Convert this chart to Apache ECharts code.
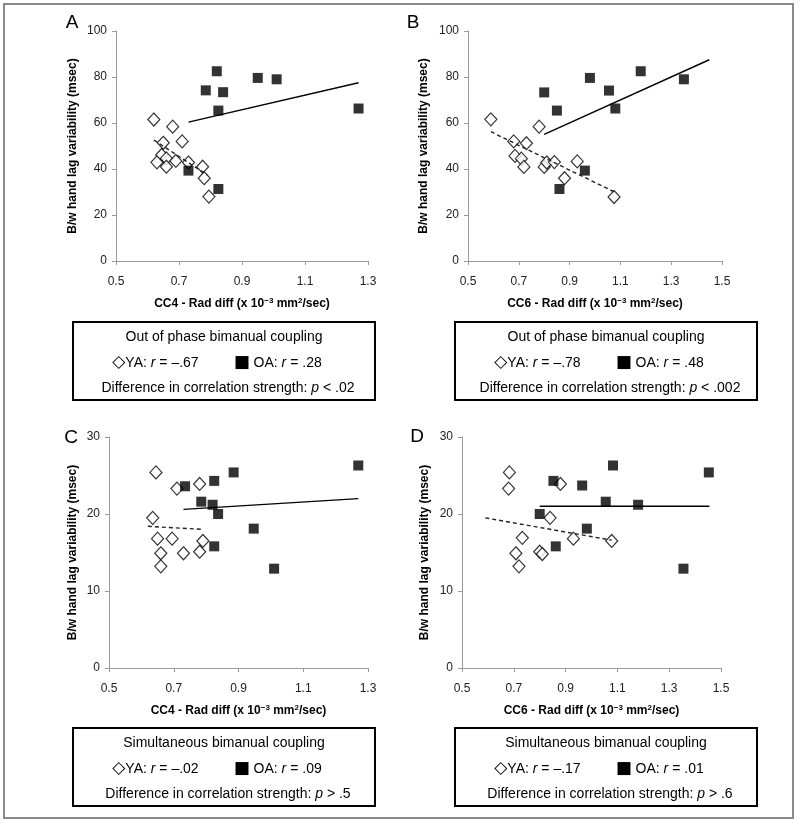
<!DOCTYPE html>
<html>
<head>
<meta charset="utf-8">
<title>Rad diff vs hand lag variability</title>
<style>
  html, body { margin: 0; padding: 0; background: #fff; overflow: hidden; }
</style>
</head>
<body>
<div id="chart-container" style="width: 800px; height: 823px;"></div>
<script src="https://cdn.jsdelivr.net/npm/echarts@6/dist/echarts.min.js"></script>
<script>
// tick labels
var xTicksCC4 = ['0.5', '0.7', '0.9', '1.1', '1.3'];
var xTicksCC6 = ['0.5', '0.7', '0.9', '1.1', '1.3', '1.5'];

// A: out of phase, CC4
var youngA = [[0.62, 61.5], [0.68, 58.4], [0.65, 51.4], [0.71, 52.0], [0.645, 46.1], [0.66, 44.6],
  [0.63, 42.9], [0.66, 41.0], [0.69, 43.5], [0.73, 42.8], [0.775, 41.0], [0.78, 36.0], [0.795, 28.0]];
var oldA = [[0.73, 39.3], [0.785, 74.2], [0.82, 82.5], [0.825, 65.4], [0.825, 31.3],
  [0.84, 73.4], [0.95, 79.6], [1.01, 79.0], [1.27, 66.3]];
var trendYoungA = [[0.62, 52.6], [0.79, 37.4]];
var trendOldA = [[0.73, 60.4], [1.27, 77.5]];

// B: out of phase, CC6
var youngB = [[0.59, 61.6], [0.78, 58.4], [0.68, 52.0], [0.73, 51.2], [0.685, 45.7], [0.71, 44.5],
  [0.72, 40.9], [0.80, 40.9], [0.81, 42.8], [0.84, 43.0], [0.93, 43.3], [0.88, 36.0], [1.075, 27.8]];
var oldB = [[0.80, 73.3], [0.85, 65.4], [0.98, 79.6], [1.055, 74.1], [1.18, 82.5],
  [1.35, 79.0], [1.08, 66.3], [0.96, 39.3], [0.86, 31.3]];
var trendYoungB = [[0.59, 56.2], [1.075, 30.1]];
var trendOldB = [[0.80, 55.1], [1.45, 87.5]];

// C: simultaneous, CC4
var youngC = [[0.645, 25.4], [0.71, 23.3], [0.78, 23.9], [0.635, 19.5], [0.65, 16.8], [0.695, 16.8],
  [0.79, 16.5], [0.66, 14.9], [0.73, 14.9], [0.78, 15.1], [0.66, 13.2]];
var oldC = [[0.735, 23.6], [0.825, 24.3], [0.885, 25.4], [0.785, 21.6], [0.82, 21.2], [0.837, 20.0],
  [0.947, 18.1], [0.825, 15.8], [1.01, 12.9], [1.27, 26.3]];
var trendYoungC = [[0.62, 18.4], [0.79, 18.0]];
var trendOldC = [[0.73, 20.6], [1.27, 22.0]];

// D: simultaneous, CC6
var youngD = [[0.683, 25.4], [0.68, 23.3], [0.88, 23.9], [0.84, 19.5], [0.733, 16.9], [0.93, 16.8],
  [1.078, 16.5], [0.708, 14.9], [0.80, 15.1], [0.81, 14.8], [0.72, 13.2]];
var oldD = [[0.853, 24.3], [1.083, 26.3], [0.964, 23.7], [1.453, 25.4], [1.055, 21.6], [1.18, 21.2],
  [0.80, 20.0], [0.982, 18.1], [0.862, 15.8], [1.355, 12.9]];
var trendYoungD = [[0.59, 19.5], [1.078, 16.6]];
var trendOldD = [[0.80, 21.0], [1.455, 21.0]];

var FONT = 'Liberation Sans, Arial, Helvetica, sans-serif';
var AXIS_GREY = '#9a9a9a';

var chart = echarts.init(document.getElementById('chart-container'));

var panels = [
  { grid: { left: 116, top: 31, width: 252, height: 230 }, ticks: xTicksCC4, xMax: 1.3, yMax: 100, yStep: 20,
    region: 'CC4', yGap: 37, young: youngA, old: oldA, tY: trendYoungA, tO: trendOldA },
  { grid: { left: 468, top: 31, width: 254, height: 230 }, ticks: xTicksCC6, xMax: 1.5, yMax: 100, yStep: 20,
    region: 'CC6', yGap: 38, young: youngB, old: oldB, tY: trendYoungB, tO: trendOldB },
  { grid: { left: 109, top: 437, width: 259, height: 231 }, ticks: xTicksCC4, xMax: 1.3, yMax: 30, yStep: 10,
    region: 'CC4', yGap: 30, young: youngC, old: oldC, tY: trendYoungC, tO: trendOldC },
  { grid: { left: 462, top: 437, width: 259, height: 231 }, ticks: xTicksCC6, xMax: 1.5, yMax: 30, yStep: 10,
    region: 'CC6', yGap: 31, young: youngD, old: oldD, tY: trendYoungD, tO: trendOldD }
];

var grids = [], xAxes = [], yAxes = [], series = [];

panels.forEach(function (p, i) {
  grids.push(p.grid);

  // visible axis only carries the tick labels
  xAxes.push({
    type: 'category', gridIndex: i, data: p.ticks, boundaryGap: false, position: 'bottom',
    axisLine: { lineStyle: { color: AXIS_GREY, width: 1 } },
    axisTick: { show: true, alignWithLabel: true, length: 4, lineStyle: { color: AXIS_GREY } },
    axisLabel: { fontSize: 12, color: '#222', fontFamily: FONT, margin: 15, interval: 0 },
    name: p.region + ' - Rad diff (x 10{sup|\u22123} mm{sup|2}/sec)',
    nameLocation: 'middle', nameGap: 36,
    nameTextStyle: {
      fontSize: 12, fontWeight: 'bold', color: '#000', fontFamily: FONT,
      rich: { sup: { fontSize: 8, fontWeight: 'bold', fontFamily: FONT, color: '#000', verticalAlign: 'top', padding: [0, 0, 6, 0] } }
    }
  });
  // hidden axis that positions the data
  xAxes.push({ type: 'value', gridIndex: i, min: 0.5, max: p.xMax, show: false });

  yAxes.push({
    type: 'value', gridIndex: i, min: 0, max: p.yMax, interval: p.yStep,
    axisLine: { show: true, lineStyle: { color: AXIS_GREY, width: 1 } },
    axisTick: { show: true, length: 4, lineStyle: { color: AXIS_GREY } },
    splitLine: { show: false },
    axisLabel: { fontSize: 12, color: '#222', fontFamily: FONT, margin: 9 },
    name: 'B/w hand lag variability (msec)', nameLocation: 'middle', nameRotate: 90, nameGap: p.yGap,
    nameTextStyle: { fontSize: 12, fontWeight: 'bold', color: '#000', fontFamily: FONT }
  });

  series.push({
    type: 'scatter', xAxisIndex: 2 * i + 1, yAxisIndex: i, data: p.young,
    symbol: 'diamond', symbolSize: [12, 13],
    itemStyle: { color: '#fff', borderColor: '#000', borderWidth: 1.2 }
  });
  series.push({
    type: 'scatter', xAxisIndex: 2 * i + 1, yAxisIndex: i, data: p.old,
    symbol: 'rect', symbolSize: 10,
    itemStyle: { color: '#000' }
  });
  series.push({
    type: 'line', xAxisIndex: 2 * i + 1, yAxisIndex: i, data: p.tY, showSymbol: false,
    lineStyle: { color: '#222', width: 1.4, type: [4, 3] }, z: 3
  });
  series.push({
    type: 'line', xAxisIndex: 2 * i + 1, yAxisIndex: i, data: p.tO, showSymbol: false,
    lineStyle: { color: '#000', width: 1.4 }, z: 3
  });
});

// legend boxes under each panel
var boxes = [
  { x: 73, y: 322, title: 'Out of phase bimanual coupling', rY: '\u2013.67', rO: '.28', p: '< .02' },
  { x: 455, y: 322, title: 'Out of phase bimanual coupling', rY: '\u2013.78', rO: '.48', p: '< .002' },
  { x: 73, y: 728, title: 'Simultaneous bimanual coupling', rY: '\u2013.02', rO: '.09', p: '> .5' },
  { x: 455, y: 728, title: 'Simultaneous bimanual coupling', rY: '\u2013.17', rO: '.01', p: '> .6' }
];
var letters = [['A', 72, 23], ['B', 413, 23], ['C', 71, 438], ['D', 417, 437]];

function richTxt() {
  return {
    n: { fontSize: 14, fontFamily: FONT, fill: '#000' },
    i: { fontSize: 14, fontFamily: FONT, fontStyle: 'italic', fill: '#000' },
    s: { fontSize: 17, fontFamily: 'DejaVu Sans, ' + FONT, fill: '#000' }
  };
}

var graphics = [{
  type: 'rect', shape: { x: 4, y: 4, width: 789, height: 814 },
  style: { fill: 'none', stroke: '#8a8a8a', lineWidth: 2 }, silent: true
}];

boxes.forEach(function (b) {
  var cx = b.x + 151;
  graphics.push({
    type: 'rect', shape: { x: b.x, y: b.y, width: 302, height: 78 },
    style: { fill: '#fff', stroke: '#000', lineWidth: 2 }
  });
  graphics.push({
    type: 'text', x: cx, y: b.y + 15,
    style: { text: b.title, fontSize: 14, fontFamily: FONT, fill: '#000', align: 'center', verticalAlign: 'middle' }
  });
  graphics.push({
    type: 'text', x: cx - 7, y: b.y + 41,
    style: {
      text: '{s|\u25C7}{n|YA: }{i|r}{n| = ' + b.rY + '         }{s|\u25A0}{n| OA: }{i|r}{n| = ' + b.rO + '}',
      rich: richTxt(), align: 'center', verticalAlign: 'middle'
    }
  });
  graphics.push({
    type: 'text', x: cx + 4, y: b.y + 66,
    style: {
      text: '{n|Difference in correlation strength: }{i|p}{n| ' + b.p + '}',
      rich: richTxt(), align: 'center', verticalAlign: 'middle'
    }
  });
});

letters.forEach(function (l) {
  graphics.push({
    type: 'text', x: l[1], y: l[2],
    style: { text: l[0], fontSize: 19, fontFamily: FONT, fill: '#000', align: 'center', verticalAlign: 'middle' }
  });
});

chart.setOption({
  animation: false,
  backgroundColor: '#fff',
  grid: grids,
  xAxis: xAxes,
  yAxis: yAxes,
  series: series,
  graphic: graphics
});
</script>
</body>
</html>
